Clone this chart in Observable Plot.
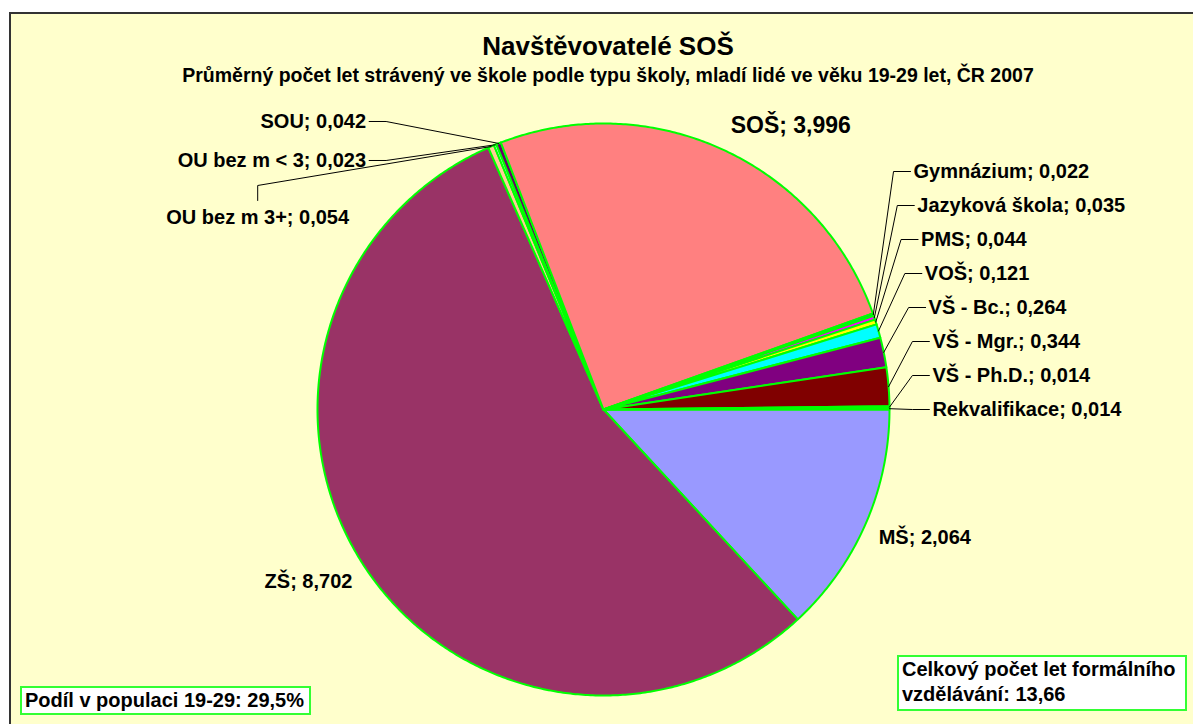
<!DOCTYPE html>
<html>
<head>
<meta charset="utf-8">
<script src="https://cdn.jsdelivr.net/npm/d3@7"></script>
<script src="https://cdn.jsdelivr.net/npm/@observablehq/plot@0.6"></script>
<style>
  html, body { margin: 0; padding: 0; background: #ffffff; }
  body { width: 1193px; height: 724px; overflow: hidden; position: relative;
         font-family: "Liberation Sans", Arial, Helvetica, sans-serif; }
  #chart { position: absolute; left: 9px; top: 12px; width: 1196px; height: 720px;
           background: #FFFFCC; border-top: 2px solid #333; border-left: 2px solid #333;
           box-sizing: border-box; overflow: hidden; }
  #title { margin-top: 17px; height: 30px; line-height: 30px; font-size: 26px;
           font-weight: bold; text-align: center; color: #000; }
  #subtitle { margin-top: 3px; height: 22px; line-height: 22px; font-size: 19.5px;
              font-weight: bold; text-align: center; color: #000; white-space: nowrap; }
  #plot { margin-top: 4px; }
  #plot svg { display: block; overflow: visible; }
  .note { position: absolute; background: #ffffff; border: 2px solid #33FF33;
          box-sizing: border-box; font-size: 20px; font-weight: bold; color: #000;
          line-height: 25px; padding-left: 3px; white-space: nowrap; }
  #share { left: 20px; top: 686px; width: 291px; height: 29px; }
  #total { left: 897px; top: 655px; width: 290px; height: 56px; }
</style>
</head>
<body>
<div id="chart">
  <div id="title"></div>
  <div id="subtitle"></div>
  <div id="plot"></div>
</div>
<div id="share" class="note"></div>
<div id="total" class="note"></div>
<script>
// ---- data ----
const titleText = "Navštěvovatelé SOŠ";
const subtitleText = "Průměrný počet let strávený ve škole podle typu školy, mladí lidé ve věku 19-29 let, ČR 2007";
const categories = ["MŠ", "ZŠ", "OU bez m 3+", "OU bez m < 3", "SOU", "SOŠ",
  "Gymnázium", "Jazyková škola", "PMS", "VOŠ", "VŠ - Bc.", "VŠ - Mgr.", "VŠ - Ph.D.", "Rekvalifikace"];
const values = [2.064, 8.702, 0.054, 0.023, 0.042, 3.996,
  0.022, 0.035, 0.044, 0.121, 0.264, 0.344, 0.014, 0.014];
const sliceColors = ["#9999FF", "#993366", "#FFCC99", "#CCFFFF", "#660066", "#FF8080",
  "#0066CC", "#FF00FF", "#FFFF00", "#00FFFF", "#800080", "#800000", "#008080", "#00CCCC"];
const highlighted = "SOŠ";
const populationShare = "29,5%";
const totalYears = "13,66";

document.getElementById("title").textContent = titleText;
document.getElementById("subtitle").textContent = subtitleText;
document.getElementById("share").textContent = "Podíl v populaci 19-29: " + populationShare;
document.getElementById("total").innerHTML = "Celkový počet let formálního<br>vzdělávání: " + totalYears;

// ---- layout ----
const W = 1194, H = 634, CX = 592, CY = 319, R = 286;
const FONT = "Liberation Sans, Arial, Helvetica, sans-serif";
const fmt = v => v.toFixed(3).replace(".", ",");
const ctx = document.createElement("canvas").getContext("2d");
ctx.font = "bold 20px " + FONT;
const textW = s => ctx.measureText(s).width / R; // width in radius units

// slices: clockwise from 3 o'clock, in unit-radius coordinates (y downwards)
const total = d3.sum(values);
let acc = 0;
const slices = categories.map((name, i) => {
  const a0 = acc / total * 2 * Math.PI; acc += values[i];
  const a1 = acc / total * 2 * Math.PI;
  const mid = (a0 + a1) / 2;
  return {name, value: values[i], a0, a1, mid, ex: Math.cos(mid), ey: Math.sin(mid),
          label: `${name}; ${fmt(values[i])}`};
});
const slicePts = [];
for (const s of slices) {
  slicePts.push({name: s.name, x: 0, y: 0});
  const n = Math.max(2, Math.ceil((s.a1 - s.a0) / (Math.PI / 360)));
  for (let j = 0; j <= n; j++) {
    const a = s.a0 + (s.a1 - s.a0) * j / n;
    slicePts.push({name: s.name, x: Math.cos(a), y: Math.sin(a)});
  }
}

// label placement
const iZS = categories.indexOf("ZŠ"), iSOS = categories.indexOf(highlighted);
const big = slices.filter(s => s.value >= 1).map(s => ({
  ...s, x: (s.ey < 0 ? 1.065 : 1.05) * s.ex, y: (s.ey < 0 ? 1.065 : 1.05) * s.ey,
  ta: s.ex >= 0 ? "start" : "end", la: s.ey < 0 ? "bottom" : "top",
  size: s.name === highlighted ? 23 : 20
}));
const right = slices.filter((s, i) => i > iSOS && s.value < 1);
const left = slices.filter((s, i) => i > iZS && i < iSOS && s.value < 1).reverse();
const stepR = 34 / R, stepL = 39 / R;
const rightLab = right.map((s, k) => ({...s,
  x: Math.min(1.15, 1.084 + 0.0132 * k), y: -(right.length - 1 - k) * stepR}));
// left column: stacked labels, the last one dropped below with a leader from its top
const leftLab = left.map((s, k) => {
  const last = k === left.length - 1;
  return {...s, last, x: last ? -0.83 - 17 / R : -0.83,
          y: last ? -1.007 + (k - 1) * stepL + 57 / R : -1.007 + k * stepL};
});
const leaders = [];
for (const d of rightLab) {
  leaders.push({name: d.name, x: d.x - 3 / R, y: d.y});
  leaders.push({name: d.name, x: d.x - 20 / R, y: d.y});
  leaders.push({name: d.name, x: d.ex, y: d.ey});
}
for (const d of leftLab) {
  if (d.last) {
    const cx = d.x - textW(d.label) / 2;
    leaders.push({name: d.name, x: cx, y: d.y - 17 / R});
    leaders.push({name: d.name, x: cx, y: d.y - 32 / R});
  } else {
    leaders.push({name: d.name, x: d.x + 3 / R, y: d.y});
    leaders.push({name: d.name, x: d.x + 20 / R, y: d.y});
  }
  leaders.push({name: d.name, x: d.ex, y: d.ey});
}

const bigMarks = [];
for (const ta of ["start", "end"]) for (const la of ["top", "bottom"]) {
  for (const size of [20, 23]) {
    const sub = big.filter(d => d.ta === ta && d.la === la && d.size === size);
    if (sub.length) bigMarks.push(Plot.text(sub, {x: "x", y: "y", text: "label",
      textAnchor: ta, lineAnchor: la, fontSize: size, fontWeight: "bold",
      fontFamily: FONT, fill: "#000"}));
  }
}

const chart = Plot.plot({
  width: W, height: H, margin: 0,
  style: {background: "transparent", fontFamily: FONT, overflow: "visible"},
  x: {domain: [-CX / R, (W - CX) / R], range: [0, W], axis: null},
  y: {domain: [-CY / R, (H - CY) / R], range: [0, H], axis: null},
  color: {domain: categories, range: sliceColors},
  marks: [
    Plot.line(slicePts, {x: "x", y: "y", z: "name", fill: "name", stroke: "#00FF00",
      strokeWidth: 2, curve: "linear-closed", strokeLinejoin: "round"}),
    Plot.line(leaders, {x: "x", y: "y", z: "name", stroke: "#000", strokeWidth: 1, curve: "linear"}),
    Plot.text(rightLab, {x: "x", y: "y", text: "label", textAnchor: "start", lineAnchor: "middle",
      fontSize: 20, fontWeight: "bold", fontFamily: FONT, fill: "#000"}),
    Plot.text(leftLab, {x: "x", y: "y", text: "label", textAnchor: "end", lineAnchor: "middle",
      fontSize: 20, fontWeight: "bold", fontFamily: FONT, fill: "#000"}),
    ...bigMarks
  ]
});
document.getElementById("plot").appendChild(chart);
</script>
</body>
</html>
